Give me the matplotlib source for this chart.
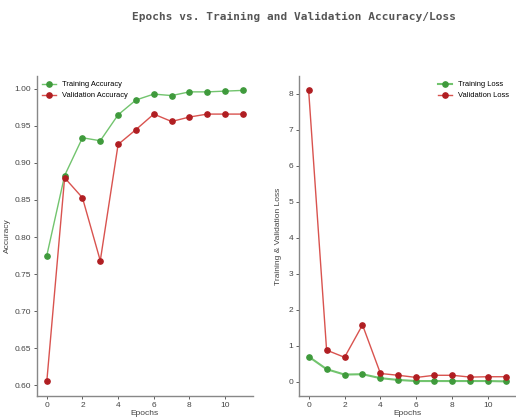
import matplotlib.pyplot as plt

epochs = list(range(12))
train_acc = [0.775, 0.883, 0.934, 0.930, 0.965, 0.985, 0.993, 0.991, 0.996, 0.996, 0.997, 0.998]
val_acc = [0.605, 0.880, 0.853, 0.768, 0.925, 0.945, 0.966, 0.956, 0.962, 0.966, 0.966, 0.966]
train_loss = [0.70, 0.35, 0.20, 0.21, 0.10, 0.05, 0.02, 0.02, 0.02, 0.02, 0.02, 0.01]
val_loss = [8.10, 0.88, 0.68, 1.58, 0.23, 0.18, 0.12, 0.18, 0.18, 0.13, 0.14, 0.14]

g_line, g_mark = '#72c46e', '#3f9a3c'
r_line, r_mark = '#d9534f', '#b01e22'
txt = '#444444'
plt.rcParams['font.family'] = ['Liberation Sans', 'DejaVu Sans']

fig = plt.figure(figsize=(5.16, 4.19), dpi=100)
fig.suptitle('Epochs vs. Training and Validation Accuracy/Loss', x=0.569, y=0.972,
             fontsize=8, family='DejaVu Sans Mono', weight='bold', color='#555555')

ax1 = fig.add_axes([0.0717, 0.055, 0.418, 0.764])
ax2 = fig.add_axes([0.579, 0.055, 0.421, 0.764])

ax1.plot(epochs, train_acc, '-o', color=g_line, mfc=g_mark, mec=g_mark, ms=3.8, lw=1, label='Training Accuracy')
ax1.plot(epochs, val_acc, '-o', color=r_line, mfc=r_mark, mec=r_mark, ms=3.8, lw=1, label='Validation Accuracy')
ax1.set_ylabel('Accuracy', fontsize=6, color=txt, labelpad=3)
ax1.set_xlabel('Epochs', fontsize=6, color=txt, labelpad=1)
ax1.set_yticks([0.60, 0.65, 0.70, 0.75, 0.80, 0.85, 0.90, 0.95, 1.00])
ax1.legend(loc='upper left', frameon=False, fontsize=5.4, handlelength=1.8, borderaxespad=0.3)

ax2.plot(epochs, train_loss, '-o', color=g_line, mfc=g_mark, mec=g_mark, ms=3.8, lw=1.5, label='Training Loss')
ax2.plot(epochs, val_loss, '-o', color=r_line, mfc=r_mark, mec=r_mark, ms=3.8, lw=1, label='Validation Loss')
ax2.set_ylabel('Training & Validation Loss', fontsize=6, color=txt, labelpad=5)
ax2.set_xlabel('Epochs', fontsize=6, color=txt, labelpad=1)
ax2.legend(loc='upper right', frameon=False, fontsize=5.4, handlelength=1.8, borderaxespad=0.3,
           bbox_to_anchor=(0.99, 1.0))

for ax in (ax1, ax2):
    ax.set_xticks([0, 2, 4, 6, 8, 10])
    ax.spines['top'].set_visible(False)
    ax.spines['right'].set_visible(False)
    for s in ('left', 'bottom'):
        ax.spines[s].set_color('#888888')
        ax.spines[s].set_linewidth(1)
    ax.tick_params(labelsize=6, colors=txt, length=2, width=0.6, pad=2)

fig.savefig('out.png', dpi=100)
